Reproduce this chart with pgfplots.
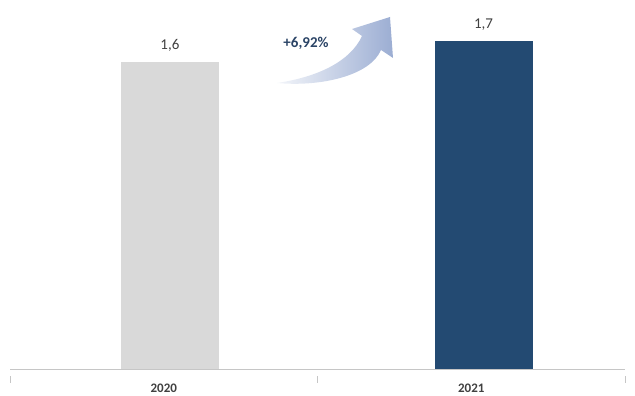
\documentclass[border=0pt]{standalone}
\usepackage{pgfplots}
\pgfplotsset{compat=1.18}
\usepackage{fontspec}
\setmainfont{Carlito}
\definecolor{barGray}{HTML}{D9D9D9}
\definecolor{barBlue}{HTML}{234A72}
\definecolor{txtGray}{HTML}{404040}
\definecolor{pctBlue}{HTML}{2B4466}
\definecolor{arrowBlue}{HTML}{8A9FCB}
\begin{document}
\begin{tikzpicture}[x=1pt,y=1pt]
\useasboundingbox (0,0) rectangle (635,396);
\begin{axis}[
  at={(10pt,27pt)}, anchor=south west,
  scale only axis, width=615pt, height=369pt,
  xmin=-0.5, xmax=1.5, ymin=0, ymax=1.922,
  axis y line=none, axis x line*=bottom,
  x axis line style={draw=gray!45, -},
  ybar, bar width=98pt, bar shift=0pt,
  xtick={0,1}, xticklabels={2020,2021},
  xticklabel style={font=\fontsize{13}{13}\selectfont\bfseries, text=txtGray, yshift=-11pt},
  major tick length=0pt,
  minor xtick={-0.5,0.5,1.5},
  minor tick length=7pt,
  every minor tick/.style={draw=gray!45, yshift=-7pt},
  /pgf/number format/assume math mode=true,
  nodes near coords={\pgfmathprintnumber[fixed,precision=1,use comma,assume math mode=true]{\pgfplotspointmeta}},
  every node near coord/.append style={font=\fontsize{15}{15}\selectfont, text=txtGray, yshift=7pt},
  clip=false,
]
\addplot[fill=barGray, draw=none] coordinates {(0.02,1.6)};
\addplot[fill=barBlue, draw=none] coordinates {(1.04,1.71)};
\end{axis}
\shade[left color=white!90!arrowBlue, right color=arrowBlue!85]
  (277,313) .. controls (317,319) and (350,334) .. (362,360)
  -- (352,367) -- (390,379) -- (393,338) -- (381,346)
  .. controls (370,320) and (320,309) .. (277,313) -- cycle;
\node[font=\fontsize{15}{15}\selectfont\bfseries, text=pctBlue] at (306,353) {+6,92\%};
\end{tikzpicture}
\end{document}
